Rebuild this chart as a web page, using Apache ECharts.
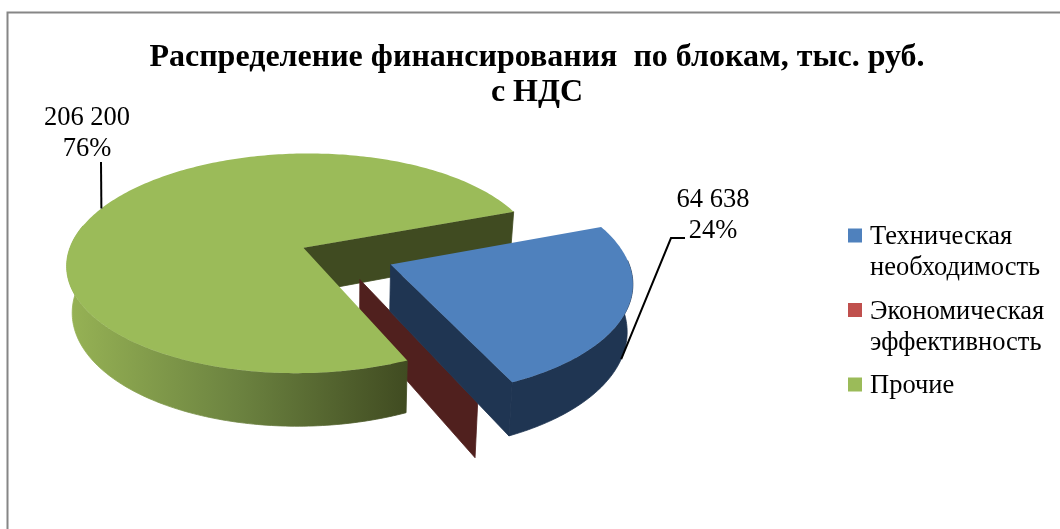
<!DOCTYPE html>
<html>
<head>
<meta charset="utf-8">
<style>
  html, body { margin: 0; padding: 0; background: #fff; }
  #chart { width: 1060px; height: 529px; }
</style>
<script src="https://cdn.jsdelivr.net/npm/echarts@6/dist/echarts.min.js"></script>
</head>
<body>
<div id="chart"></div>
<script>
const titleText = 'Распределение финансирования  по блокам, тыс. руб.\nс НДС';
const categories = ['Техническая необходимость', 'Экономическая эффективность', 'Прочие'];
const legendLines = ['Техническая\nнеобходимость', 'Экономическая\nэффективность', 'Прочие\n\u00a0'];
const values = [64638, 300, 206200]; // the middle one has no label, estimated from the sliver
const topColors = ['#4F81BD', '#C0504D', '#9BBB59'];
const wallColors = ['#1F3552', '#50201E', '#404B21'];

// 3d look, excel style: unit circle seen with some perspective
const cx = 346.5, cy = 256;
const radiusX = 236, radiusY = 110;
const camera = 6.93;
const thickness = 46;
const bottomInset = 0.98;
const explode = 0.2;
const firstAngle = -20.5;
// the thin slice sits a little off its radial line in the source
const sliceNudge = [[0, 0], [-0.028, 0.026], [0, 0]];

const serif = '"Liberation Serif", "Times New Roman", serif';
const total = values.reduce((a, b) => a + b, 0);

function project(u, v, lower) {
  const d = camera / (camera - v);
  const k = lower ? bottomInset : 1;
  return [cx + radiusX * u * d * k, cy + radiusY * v * d + (lower ? thickness * d : 0)];
}

// angles are in degrees, clockwise from east
function sliceGeom(index, value) {
  let start = firstAngle;
  for (let i = 0; i < index; i++) start += values[i] / total * 360;
  const end = start + value / total * 360;
  const mid = (start + end) / 2 * Math.PI / 180;
  const ox = explode * Math.cos(mid) + sliceNudge[index][0];
  const oy = explode * Math.sin(mid) + sliceNudge[index][1];
  const rim = function (deg, lower) {
    const t = deg * Math.PI / 180;
    return project(ox + Math.cos(t), oy + Math.sin(t), lower);
  };
  return { start, end, mid, ox, oy, rim, apex: lower => project(ox, oy, lower) };
}

function arcPoints(g, from, to, lower) {
  const pts = [];
  const steps = Math.max(2, Math.ceil(Math.abs(to - from)));
  for (let i = 0; i <= steps; i++) pts.push(g.rim(from + (to - from) * i / steps, lower));
  return pts;
}

function endWall(g, color) {
  return {
    type: 'polygon',
    shape: { points: [g.apex(false), g.rim(g.end, false), g.rim(g.end, true), g.apex(true)] },
    style: { fill: color, stroke: color, lineWidth: 0.8 }
  };
}

function outerWall(g, fill) {
  // only the front of the rim can be seen
  const from = Math.max(g.start, -2);
  const to = Math.min(g.end, 192);
  const pts = arcPoints(g, from, to, false).concat(arcPoints(g, from, to, true).reverse());
  return { type: 'polygon', shape: { points: pts }, style: { fill: fill, stroke: fill, lineWidth: 0.8 } };
}

function topFace(g, color) {
  const pts = [g.apex(false)].concat(arcPoints(g, g.start, g.end, false));
  return { type: 'polygon', shape: { points: pts }, style: { fill: color } };
}

function formatValue(v) {
  return String(v).replace(/\B(?=(\d{3})+$)/g, ' ');
}

function labelParts(g, index, value, labelAt, lineFrom, lowerEnd) {
  const end = project(g.ox + Math.cos(g.mid), g.oy + Math.sin(g.mid), lowerEnd);
  return [{
    type: 'polyline',
    shape: { points: lineFrom.concat([end]) },
    style: { stroke: '#000', lineWidth: 2, fill: null }
  }, {
    type: 'text',
    style: {
      x: labelAt[0], y: labelAt[1],
      text: formatValue(value) + '\n' + Math.round(value / total * 100) + '%',
      fill: '#000',
      font: '26.5px ' + serif,
      lineHeight: 31,
      textAlign: 'center',
      textVerticalAlign: 'middle'
    }
  }];
}

function sliceSeries(index, part, z, extra) {
  return {
    type: 'custom',
    name: categories[index],
    coordinateSystem: 'none',
    silent: true,
    z: z,
    itemStyle: { color: topColors[index] },
    data: [[values[index]]],
    renderItem: function (params, api) {
      const value = api.value(0);
      const g = sliceGeom(index, value);
      let children = [];
      if (part === 'inner' || part === 'all') children.push(endWall(g, wallColors[index]));
      if (part === 'outer' || part === 'all') {
        children.push(outerWall(g, extra && extra.wallFill ? extra.wallFill : wallColors[index]));
        children.push(topFace(g, topColors[index]));
      }
      if (extra && extra.label) {
        children = children.concat(labelParts(g, index, value, extra.label.at, extra.label.from, extra.label.lower));
      }
      return { type: 'group', children: children };
    }
  };
}

const greenWall = new echarts.graphic.LinearGradient(0, 0, 1, 0, [
  { offset: 0, color: '#97B355' },
  { offset: 0.5, color: '#6C8340' },
  { offset: 1, color: '#404B21' }
]);

const chart = echarts.init(document.getElementById('chart'), null, { renderer: 'canvas' });
chart.setOption({
  animation: false,
  backgroundColor: '#fff',
  title: {
    text: titleText,
    left: 532,
    top: 35,
    textAlign: 'center',
    textStyle: {
      fontFamily: serif,
      fontSize: 32,
      fontWeight: 'bold',
      color: '#000',
      lineHeight: 35
    }
  },
  legend: {
    left: 848,
    top: 222,
    orient: 'vertical',
    itemWidth: 17,
    itemHeight: 62,
    itemGap: 12.5,
    padding: 0,
    symbolKeepAspect: false,
    selectedMode: false,
    icon: 'path://M0 0h0M0 6.5h14v14h-14zM17 62h0',
    data: categories,
    formatter: name => legendLines[categories.indexOf(name)],
    textStyle: { fontFamily: serif, fontSize: 26.5, color: '#000', lineHeight: 31 }
  },
  graphic: [{
    type: 'rect',
    silent: true,
    z: 0,
    shape: { x: 7.5, y: 12.5, width: 1200, height: 700 },
    style: { fill: null, stroke: '#868686', lineWidth: 2 }
  }],
  series: [
    sliceSeries(2, 'inner', 2),
    // the thin slice is almost edge-on, only its wall shows
    sliceSeries(1, 'inner', 3),
    sliceSeries(2, 'outer', 4, {
      wallFill: greenWall,
      label: { at: [87, 134], from: [[101, 162]], lower: false }
    }),
    sliceSeries(0, 'all', 5, {
      label: { at: [713, 216], from: [[685, 238], [671, 238]], lower: true }
    })
  ]
});
</script>
</body>
</html>
